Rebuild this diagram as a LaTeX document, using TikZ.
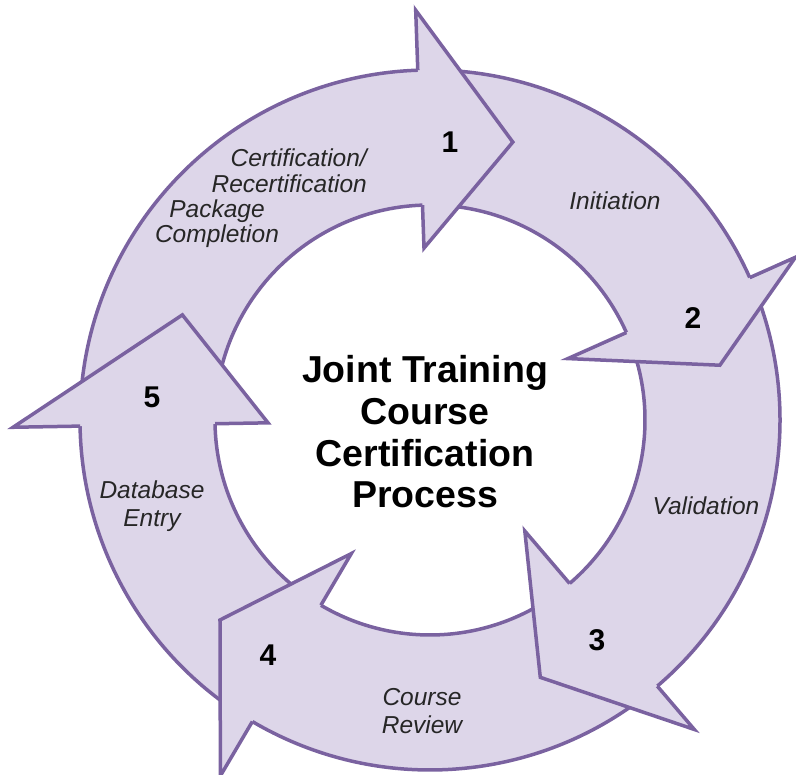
\documentclass[tikz,border=0pt]{standalone}
\usepackage{fontspec}
\setmainfont{Liberation Sans}
\definecolor{lav}{RGB}{221,214,233}
\definecolor{plum}{RGB}{122,98,160}

\begin{document}
\begin{tikzpicture}[x=1pt, y=1pt,
      band/.style={fill=lav},
      rim/.style={draw=plum, line width=3.5pt, line join=miter},
      num/.style={font=\fontsize{30}{30}\selectfont\bfseries},
      lbl/.style={font=\fontsize{24.5}{28}\selectfont\itshape, text=black!85,
                  align=center, inner sep=0pt}]

    \useasboundingbox (-430,-355) rectangle (366,420);
    \def\rin{215}
    \def\rout{350}

    % ring pieces (start angle / end angle)
    \foreach \s/\e in {178/91, 89/23, 21/-50.5, -52.5/-121.5, -123.5/-180} {
      \fill[band] (\s:\rout) arc[start angle=\s, end angle=\e, radius=\rout]
        -- (\e:\rin) arc[start angle=\e, end angle=\s, radius=\rin] -- cycle;
      \draw[rim] (\s:\rout) arc[start angle=\s, end angle=\e, radius=\rout]
        (\s:\rin) arc[start angle=\s, end angle=\e, radius=\rin];
    }

    % heads (barb angle / inner barb / outer barb / tip angle / tip radius)
    \foreach \b/\bi/\bo/\t/\tr in {92/172/410/73.4/290, 24/151/400/10.7/295,
        -49.5/146/407/-66.8/280, -120.5/155/413/-136.4/290, 181/162/417/157/269} {
      \fill[band] (\b:\bi) -- (\t:\tr) -- (\b:\bo) -- cycle;
      \draw[rim] (\b:\rin) -- (\b:\bi) -- (\t:\tr) -- (\b:\bo) -- (\b:\rout);
    }

    \node[num] (n1) at (20,278)    {1};
    \node[num] (n2) at (263,102)   {2};
    \node[num] (n3) at (167,-220)  {3};
    \node[num] (n4) at (-162,-235) {4};
    \node[num] (n5) at (-278,23)   {5};

    \node[lbl, align=right, anchor=east, font=\fontsize{24.5}{26}\selectfont\itshape]
      (cert) at (-63,249) {Certification/\\Recertification};
    \node[lbl, font=\fontsize{24.5}{25}\selectfont\itshape]
      (pack) at (-213,196) {Package\\Completion};
    \node[lbl, anchor=base] (init) at (185,210) {Initiation};
    \node[lbl, anchor=base] (valid) at (276,-95) {Validation};
    \node[lbl] (review) at (-8,-291) {Course\\Review};
    \node[lbl] (dbase) at (-278,-86) {Database\\Entry};

    \node[font=\fontsize{37.5}{41.7}\selectfont\bfseries, align=center]
      (title) at (-5,-12) {Joint Training\\Course\\Certification\\Process};
  \end{tikzpicture}
\end{document}
